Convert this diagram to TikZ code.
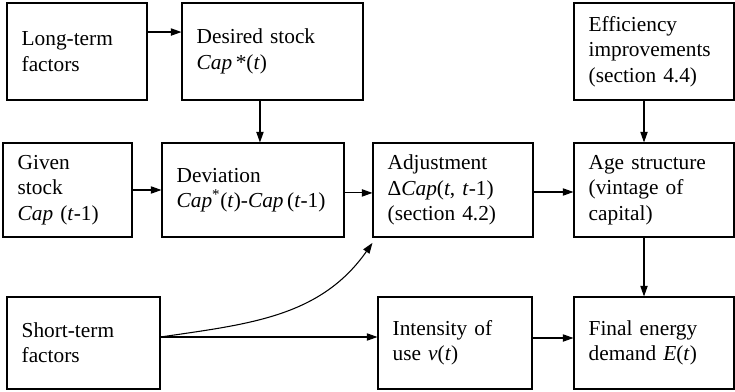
\documentclass[tikz,border=0pt]{standalone}
\usepackage{fontspec}
\setmainfont{Liberation Serif}
\usepackage{tikz}
\usetikzlibrary{arrows, arrows.meta}
\tikzstyle{arrow} = [line width=0.8pt,-{Triangle[length=8pt,width=5.5pt]}]
\tikzstyle{box} = [draw, line width=0.8pt, align=left, inner xsep=11pt, inner ysep=0pt]

\begin{document}
\begin{tikzpicture}[x=0.75pt,y=-0.75pt,font=\fontsize{16}{19}\selectfont]
	\useasboundingbox (0,0) rectangle (735,392);

	% Top row:
	\node [box, text width=83pt, minimum height=72.75pt] (long) at (77,51.5) {Long-term\\factors};
	\node [box, text width=113.75pt, minimum height=72.75pt] (desired) at (272.5,51.5) {Desired stock\\\textit{Cap}\,*(\textit{t})};
	\node [box, text width=98pt, minimum height=72.75pt] (eff) at (654,51.5) {Efficiency\\improvements\\(section 4.4)};

	% Middle row:
	\node [box, text width=74.75pt, minimum height=70.5pt] (given) at (67.5,190) {Given\\stock\\\textit{Cap} (\textit{t}-1)};
	\node [box, text width=114.5pt, minimum height=70.5pt] (dev) at (253,190) {Deviation\\\textit{Cap}\textsuperscript{*}(\textit{t})-\textit{Cap}\,(\textit{t}-1)};
	\node [box, text width=98pt, minimum height=70.5pt] (adj) at (453,190) {Adjustment\\Δ\textit{Cap}(\textit{t}, \textit{t}-1)\\(section 4.2)};
	\node [box, text width=98pt, minimum height=70.5pt] (age) at (654,190) {Age structure\\(vintage of\\capital)};

	% Bottom row:
	\node [box, text width=92.75pt, minimum height=69pt] (short) at (83.5,343) {Short-term\\factors};
	\node [box, text width=93.5pt, minimum height=69pt] (int) at (455,343) {Intensity of\\use \textit{ν}(\textit{t})};
	\node [box, text width=98pt, minimum height=69pt] (final) at (654,343) {Final energy\\demand \textit{E}(\textit{t})};

	% Arrows:
	\draw [arrow] ([yshift=14.6pt]long.east) -- ([yshift=14.6pt]desired.west);
	\draw [arrow] ([xshift=-9.4pt]desired.south) -- ([xshift=-9.4pt]desired.south |- dev.north);
	\draw [arrow] ([xshift=-7.5pt]eff.south) -- ([xshift=-7.5pt]age.north);
	\draw [arrow] ([xshift=-7.5pt]age.south) -- ([xshift=-7.5pt]final.north);

	\draw [arrow] (given.east) -- (dev.west);
	\draw [arrow] ([yshift=-2.2pt]dev.east) -- ([yshift=-2.2pt]adj.west);
	\draw [arrow] ([yshift=-1.5pt]adj.east) -- ([yshift=-1.5pt]age.west);

	\draw [arrow] ([yshift=4.5pt]short.east) -- ([yshift=4.5pt]short.east -| int.west);
	\draw [arrow] ([yshift=4.5pt]short.east) .. controls +(89,-13) and +(-52,74) .. ([yshift=-4pt]adj.south west);
	\draw [arrow] ([yshift=3.75pt]int.east) -- ([yshift=3.75pt]final.west);
\end{tikzpicture}
\end{document}
